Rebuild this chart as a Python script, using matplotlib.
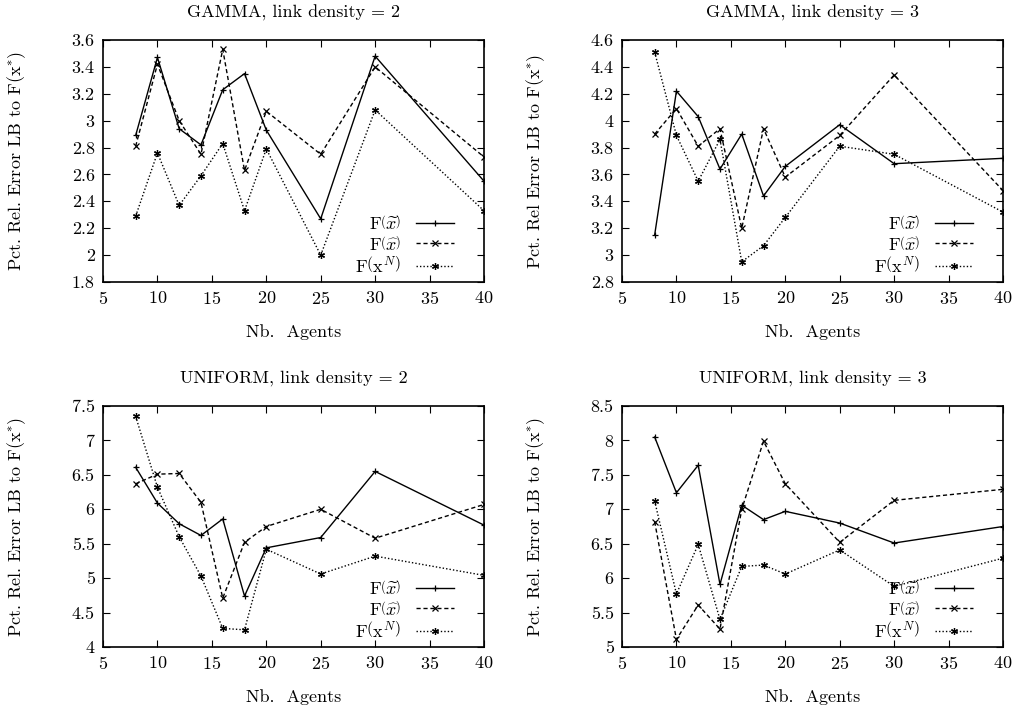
import numpy as np
import matplotlib
matplotlib.use("Agg")
import matplotlib.pyplot as plt

plt.rcParams["font.family"] = "serif"
plt.rcParams["font.serif"] = ["cmr10", "DejaVu Serif"]
plt.rcParams["mathtext.fontset"] = "cm"
plt.rcParams["axes.unicode_minus"] = False
plt.rcParams["axes.formatter.use_mathtext"] = True

agents = [8, 10, 12, 14, 16, 18, 20, 25, 30, 40]

# GAMMA, link density = 2
g2_tilde = [2.89, 3.47, 2.94, 2.82, 3.23, 3.35, 2.93, 2.27, 3.48, 2.55]
g2_hat = [2.81, 3.42, 3.00, 2.75, 3.53, 2.63, 3.07, 2.75, 3.40, 2.73]
g2_xn = [2.29, 2.76, 2.37, 2.59, 2.83, 2.33, 2.79, 2.00, 3.08, 2.33]

# GAMMA, link density = 3
g3_tilde = [3.15, 4.22, 4.03, 3.64, 3.90, 3.44, 3.66, 3.97, 3.68, 3.72]
g3_hat = [3.90, 4.09, 3.81, 3.94, 3.20, 3.94, 3.58, 3.89, 4.34, 3.48]
g3_xn = [4.51, 3.89, 3.55, 3.86, 2.95, 3.07, 3.28, 3.81, 3.75, 3.32]

# UNIFORM, link density = 2
u2_tilde = [6.61, 6.09, 5.79, 5.62, 5.86, 4.74, 5.44, 5.59, 6.55, 5.77]
u2_hat = [6.37, 6.51, 6.52, 6.10, 4.71, 5.52, 5.75, 6.00, 5.58, 6.07]
u2_xn = [7.35, 6.32, 5.60, 5.03, 4.27, 4.25, 5.42, 5.06, 5.32, 5.04]

# UNIFORM, link density = 3
u3_tilde = [8.05, 7.24, 7.64, 5.91, 7.06, 6.85, 6.97, 6.80, 6.51, 6.75]
u3_hat = [6.82, 5.11, 5.61, 5.26, 7.00, 7.99, 7.37, 6.52, 7.13, 7.29]
u3_xn = [7.12, 5.77, 6.49, 5.40, 6.17, 6.19, 6.06, 6.41, 5.88, 6.29]

panels = [
    ("GAMMA, link density = 2", "Pct. Rel. Error LB to F(x$^{*}$)",
     g2_tilde, g2_hat, g2_xn, (1.8, 3.6), 0.2),
    ("GAMMA, link density = 3", "Pct. Rel Error LB to F(x$^{*}$)",
     g3_tilde, g3_hat, g3_xn, (2.8, 4.6), 0.2),
    ("UNIFORM, link density = 2", "Pct. Rel. Error LB to F(x$^{*}$)",
     u2_tilde, u2_hat, u2_xn, (4.0, 7.5), 0.5),
    ("UNIFORM, link density = 3", "Pct. Rel. Error LB to F(x$^{*}$)",
     u3_tilde, u3_hat, u3_xn, (5.0, 8.5), 0.5),
]

labels = [r"$\mathrm{F}\left(\widetilde{x}\right)$",
          r"$\mathrm{F}\left(\widehat{x}\right)$",
          r"$\mathrm{F}\left(\mathrm{x}^{N}\right)$"]

W, H = 1018, 712
fig = plt.figure(figsize=(W / 100, H / 100), dpi=100)
boxes = [(103, 40, 484, 282), (622, 40, 1003, 282),
         (103, 406, 484, 647), (622, 406, 1003, 647)]

fs = 13
for (title, ylab, s1, s2, s3, ylim, ystep), (x0, y0, x1, y1) in zip(panels, boxes):
    ax = fig.add_axes([x0 / W, 1 - y1 / H, (x1 - x0) / W, (y1 - y0) / H])
    ax.plot(agents, s1, "-", color="black", lw=1, marker="+", ms=5, mew=0.9,
            label=labels[0])
    ax.plot(agents, s2, color="black", lw=1, ls=(0, (3, 2)), marker="x", ms=4,
            mew=0.9, label=labels[1])
    ax.plot(agents, s3, color="black", lw=1, ls=(0, (1, 1.5)), marker=(6, 2, 0),
            ms=5, mew=0.9, label=labels[2])
    ax.set_xlim(5, 40)
    ax.set_ylim(*ylim)
    ax.set_xticks(np.arange(5, 41, 5))
    ax.set_yticks(np.round(np.arange(ylim[0], ylim[1] + 1e-9, ystep), 2))
    ax.yaxis.set_major_formatter(matplotlib.ticker.FuncFormatter(
        lambda v, p: f"{v:g}"))
    ax.tick_params(direction="in", top=True, right=True, length=5,
                   labelsize=fs, pad=6)
    for sp in ax.spines.values():
        sp.set_linewidth(1.2)
    ax.set_title(title, fontsize=fs, pad=16)
    ax.set_xlabel("Nb.  Agents", fontsize=fs, labelpad=12)
    ax.set_ylabel(ylab, fontsize=fs)
    ax.yaxis.set_label_coords(-75 / (x1 - x0), 0.5)
    ax.legend(loc="lower right", frameon=False, markerfirst=False,
              fontsize=fs, handlelength=2.1, labelspacing=0.15,
              borderaxespad=0.3, handletextpad=0.85,
              bbox_to_anchor=(0.955, -0.025))

fig.savefig("out.png", dpi=100)
